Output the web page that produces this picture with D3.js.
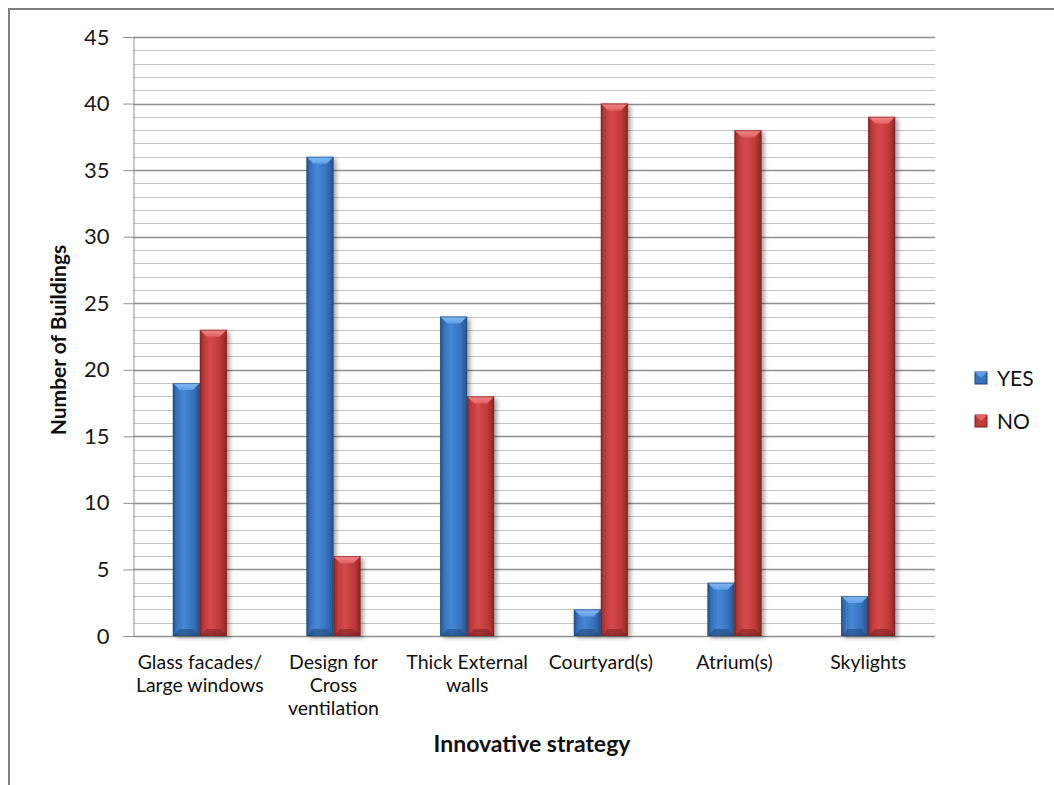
<!DOCTYPE html>
<html>
<head>
<meta charset="utf-8">
<script src="https://cdn.jsdelivr.net/npm/d3@7"></script>
<style>
  html, body { margin: 0; padding: 0; background: #fff; }
  svg { display: block; font-family: Lato, "Open Sans", sans-serif; }
</style>
</head>
<body>
<svg id="chart" width="1054" height="785"></svg>
<script>
// Survey results: buildings using each passive design strategy
const categories = [
  ["Glass facades/", "Large windows"],
  ["Design for", "Cross", "ventilation"],
  ["Thick External", "walls"],
  ["Courtyard(s)"],
  ["Atrium(s)"],
  ["Skylights"]
];
const seriesNames = ["YES", "NO"];
const yesValues = [19, 36, 24, 2, 4, 3];
const noValues  = [23, 6, 18, 40, 38, 39];
const yTicks = [0, 5, 10, 15, 20, 25, 30, 35, 40, 45];

const svg = d3.select("#chart");
const plot = { left: 133, right: 935, top: 37, bottom: 636 };

// Outer frame of the chart object
svg.append("rect")
  .attr("x", 9).attr("y", 9).attr("width", 1200).attr("height", 1000)
  .attr("fill", "none").attr("stroke", "#808080").attr("stroke-width", 2);

const y = d3.scaleLinear().domain([0, 45]).range([plot.bottom, plot.top]);
const x0 = d3.scaleBand()
  .domain(d3.range(categories.length))
  .range([plot.left, plot.right])
  .paddingInner(0.596).paddingOuter(0.298);
const x1 = d3.scaleBand().domain(seriesNames).range([0, x0.bandwidth()]);

// Gradients and shadow for the bevelled bars
const defs = svg.append("defs");
const palettes = {
  YES: { edge: "#25538d", mid: "#3772bd", light: "#4687d6", top: "#5f9fe8", topEdge: "#86bbf5", dark: "#1f4677" },
  NO:  { edge: "#8e2625", mid: "#bf3a39", light: "#d44a49", top: "#e36161", topEdge: "#f08886", dark: "#7a1f1e" }
};
Object.entries(palettes).forEach(([k, p]) => {
  const g = defs.append("linearGradient").attr("id", "body-" + k)
    .attr("x1", 0).attr("x2", 1).attr("y1", 0).attr("y2", 0);
  g.append("stop").attr("offset", "0%").attr("stop-color", p.edge);
  g.append("stop").attr("offset", "15%").attr("stop-color", p.mid);
  g.append("stop").attr("offset", "40%").attr("stop-color", p.light);
  g.append("stop").attr("offset", "75%").attr("stop-color", p.mid);
  g.append("stop").attr("offset", "100%").attr("stop-color", p.edge);
  const t = defs.append("linearGradient").attr("id", "top-" + k)
    .attr("x1", 0).attr("x2", 0).attr("y1", 0).attr("y2", 1);
  t.append("stop").attr("offset", "0%").attr("stop-color", p.topEdge);
  t.append("stop").attr("offset", "100%").attr("stop-color", p.top);
});
const shadow = defs.append("filter").attr("id", "shadow")
  .attr("x", "-30%").attr("y", "-10%").attr("width", "170%").attr("height", "130%");
shadow.append("feDropShadow").attr("dx", 3).attr("dy", 2).attr("stdDeviation", 2)
  .attr("flood-color", "#000").attr("flood-opacity", 0.35);

// Gridlines: minor every 1, major every 5
const grid = svg.append("g");
d3.range(1, 46).forEach(v => {
  const major = v % 5 === 0;
  grid.append("line")
    .attr("x1", plot.left).attr("x2", plot.right)
    .attr("y1", Math.round(y(v)) + 0.5).attr("y2", Math.round(y(v)) + 0.5)
    .attr("stroke", major ? "#8f8f8f" : "#c4c4c4").attr("stroke-width", major ? 1.3 : 1.2);
});

// Y axis
const yAxis = svg.append("g")
  .attr("transform", `translate(${plot.left + 0.5},0)`)
  .call(d3.axisLeft(y).tickValues(yTicks).tickSize(10).tickPadding(14));
yAxis.select(".domain").attr("stroke", "#8f8f8f");
yAxis.selectAll(".tick line").attr("stroke", "#8f8f8f");
yAxis.selectAll(".tick text")
  .attr("font-family", "Lato, sans-serif").attr("font-size", 22).attr("fill", "#1a1a1a");

// X axis baseline
svg.append("line")
  .attr("x1", plot.left).attr("x2", plot.right)
  .attr("y1", plot.bottom + 0.5).attr("y2", plot.bottom + 0.5)
  .attr("stroke", "#8f8f8f").attr("stroke-width", 1.3);

// Bars
const rows = [];
categories.forEach((c, i) => {
  rows.push({ i, s: "YES", v: yesValues[i] });
  rows.push({ i, s: "NO", v: noValues[i] });
});
const bars = svg.append("g").selectAll("g").data(rows).join("g")
  .attr("transform", d => `translate(${x0(d.i) + x1(d.s)},0)`);

bars.each(function(d) {
  const g = d3.select(this);
  const w = x1.bandwidth();
  const top = y(d.v), h = plot.bottom - top;
  const p = palettes[d.s];
  const b = Math.min(7, h / 2, w / 2);
  g.append("rect").attr("x", 0).attr("y", top).attr("width", w).attr("height", h)
    .attr("fill", `url(#body-${d.s})`).attr("filter", "url(#shadow)");
  // top bevel
  g.append("path")
    .attr("d", `M0,${top} L${w},${top} L${w - b},${top + b} L${b},${top + b} Z`)
    .attr("fill", `url(#top-${d.s})`);
  // bottom bevel
  g.append("path")
    .attr("d", `M0,${plot.bottom} L${w},${plot.bottom} L${w - b},${plot.bottom - b} L${b},${plot.bottom - b} Z`)
    .attr("fill", p.dark).attr("opacity", 0.55);
  // outline
  g.append("rect").attr("x", 0.5).attr("y", top + 0.5).attr("width", w - 1).attr("height", Math.max(0, h - 1))
    .attr("fill", "none").attr("stroke", p.dark).attr("stroke-opacity", 0.6);
});

// Category labels
const catLabels = svg.append("g");
categories.forEach((lines, i) => {
  const t = catLabels.append("text")
    .attr("x", x0(i) + x0.bandwidth() / 2).attr("y", 669)
    .attr("text-anchor", "middle").attr("font-size", 19.5).attr("fill", "#111");
  lines.forEach((ln, k) => {
    t.append("tspan").attr("x", x0(i) + x0.bandwidth() / 2).attr("dy", k === 0 ? 0 : 23).text(ln);
  });
});

// Axis titles
svg.append("text")
  .attr("x", 532).attr("y", 752).attr("text-anchor", "middle")
  .attr("font-size", 23).attr("font-weight", "bold").attr("fill", "#111")
  .text("Innovative strategy");
svg.append("text")
  .attr("transform", "translate(66,340) rotate(-90)").attr("text-anchor", "middle")
  .attr("font-size", 21).attr("font-weight", "bold").attr("fill", "#111")
  .text("Number of Buildings");

// Legend
const legend = svg.append("g");
seriesNames.forEach((s, k) => {
  const cy = 378 + k * 43;
  const p = palettes[s];
  legend.append("rect").attr("x", 975).attr("y", cy - 6).attr("width", 12).attr("height", 12)
    .attr("fill", p.mid).attr("stroke", p.dark).attr("stroke-width", 1);
  legend.append("path")
    .attr("d", `M975,${cy - 6} L987,${cy - 6} L981,${cy} Z`).attr("fill", p.top);
  legend.append("text").attr("x", 997).attr("y", cy).attr("dy", "0.36em")
    .attr("font-size", 21).attr("fill", "#111").text(s);
});
</script>
</body>
</html>
